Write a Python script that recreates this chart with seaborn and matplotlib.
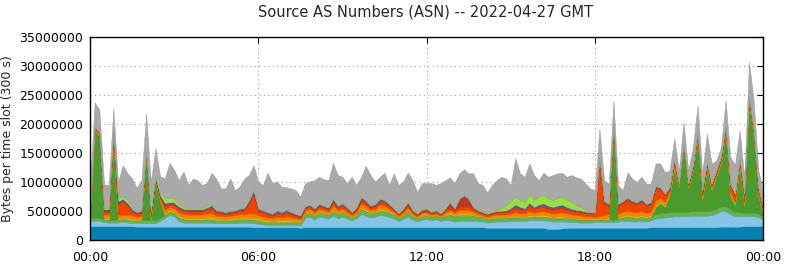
import numpy as np
import matplotlib
matplotlib.use("Agg")
import matplotlib.pyplot as plt
from matplotlib.ticker import FuncFormatter, MultipleLocator
import seaborn as sns

# one sample every 10 minutes, values in units of 100000 bytes per 300 s slot
slot_minutes = 10
unit = 100000

dark_blue = [
    24, 24, 24, 24, 24, 24, 24, 24, 24, 24,
    23, 23, 23, 23, 23, 23, 23, 23, 23, 23,
    23, 23, 23, 23, 23, 23, 23, 23, 23, 23,
    23, 23, 23, 23, 23, 22, 22, 22, 22, 22,
    22, 22, 22, 22, 22, 21, 22, 22, 22, 22,
    22, 22, 22, 22, 22, 22, 22, 22, 22, 22,
    22, 22, 22, 22, 22, 22, 22, 22, 22, 22,
    22, 22, 22, 22, 22, 22, 22, 22, 22, 22,
    22, 22, 22, 22, 22, 21, 21, 21, 21, 21,
    21, 21, 21, 21, 21, 21, 21, 21, 19, 19,
    19, 20, 21, 21, 21, 21, 21, 21, 21, 21,
    21, 21, 21, 21, 21, 21, 21, 21, 21, 21,
    22, 22, 22, 22, 22, 22, 22, 22, 22, 22,
    22, 22, 22, 22, 22, 23, 23, 23, 23, 23,
    24, 24, 24, 24, 25,
]
light_blue = [
    9, 9, 9, 7, 6, 6, 6, 8, 6, 5,
    6, 6, 6, 6, 6, 10, 15, 20, 18, 10,
    7, 7, 7, 7, 7, 7, 7, 6, 6, 6,
    6, 6, 7, 7, 7, 7, 6, 5, 4, 4,
    4, 4, 4, 4, 4, 4, 16, 18, 14, 18,
    17, 15, 20, 16, 18, 15, 12, 15, 23, 20,
    17, 18, 21, 20, 18, 15, 11, 14, 19, 13,
    10, 13, 14, 12, 14, 11, 13, 12, 10, 11,
    11, 11, 11, 10, 10, 9, 10, 11, 11, 11,
    12, 12, 12, 12, 13, 13, 13, 13, 14, 13,
    13, 12, 11, 10, 10, 9, 9, 9, 10, 10,
    10, 10, 10, 11, 12, 12, 11, 11, 12, 11,
    12, 15, 16, 17, 18, 19, 19, 19, 19, 20,
    20, 20, 20, 21, 24, 27, 27, 22, 18, 18,
    17, 17, 17, 16, 10,
]
green = [
    5, 5, 5, 5, 5, 5, 5, 5, 5, 5,
    4, 5, 5, 5, 5, 5, 5, 6, 6, 6,
    6, 5, 5, 5, 5, 6, 6, 5, 5, 5,
    5, 6, 6, 6, 6, 6, 6, 5, 5, 5,
    5, 5, 5, 5, 5, 5, 6, 7, 6, 7,
    7, 6, 8, 7, 7, 6, 5, 6, 8, 8,
    7, 7, 8, 8, 7, 6, 5, 6, 8, 6,
    5, 6, 6, 6, 6, 5, 7, 10, 9, 10,
    10, 10, 9, 8, 7, 6, 6, 6, 6, 6,
    6, 6, 6, 6, 6, 6, 6, 6, 6, 6,
    6, 6, 6, 6, 5, 5, 5, 5, 4, 4,
    4, 5, 4, 5, 6, 8, 7, 6, 7, 6,
    6, 8, 8, 8, 8, 8, 8, 8, 8, 8,
    8, 8, 8, 8, 8, 8, 8, 8, 7, 7,
    6, 6, 6, 6, 5,
]
dark_green = [
    0, 150, 141, 0, 0, 137, 0, 0, 0, 0,
    0, 0, 113, 0, 68, 30, 0, 0, 0, 0,
    0, 0, 0, 0, 0, 0, 0, 0, 0, 0,
    0, 0, 0, 0, 0, 0, 0, 0, 0, 0,
    0, 0, 0, 0, 0, 0, 0, 0, 0, 0,
    0, 0, 0, 0, 0, 0, 0, 0, 0, 0,
    0, 0, 0, 0, 0, 0, 0, 0, 0, 0,
    0, 0, 0, 0, 0, 0, 0, 0, 0, 0,
    0, 0, 0, 0, 0, 0, 0, 0, 0, 0,
    0, 0, 0, 0, 0, 0, 0, 0, 0, 0,
    0, 0, 0, 0, 0, 0, 0, 0, 0, 0,
    0, 0, 161, 0, 0, 0, 0, 0, 0, 0,
    0, 12, 18, 10, 30, 74, 43, 111, 41, 70,
    128, 19, 73, 35, 56, 75, 130, 22, 12, 81,
    12, 190, 133, 29, 3,
]
amber = [
    1, 1, 1, 3, 3, 2, 3, 2, 3, 3,
    2, 3, 1, 2, 1, 1, 3, 3, 3, 3,
    3, 3, 3, 3, 3, 3, 4, 3, 3, 2,
    3, 3, 3, 3, 3, 3, 3, 3, 3, 2,
    3, 3, 3, 3, 2, 2, 2, 2, 2, 2,
    2, 2, 3, 2, 2, 2, 1, 2, 3, 3,
    2, 2, 3, 3, 2, 2, 1, 2, 2, 2,
    1, 2, 2, 1, 1, 1, 2, 3, 2, 3,
    3, 3, 2, 2, 1, 1, 2, 2, 2, 2,
    2, 3, 2, 2, 3, 2, 3, 3, 3, 2,
    3, 3, 2, 2, 2, 2, 2, 2, 2, 2,
    2, 3, 1, 3, 3, 3, 3, 3, 3, 3,
    3, 3, 3, 3, 2, 2, 1, 1, 1, 1,
    1, 2, 1, 1, 1, 1, 1, 2, 2, 1,
    2, 1, 1, 2, 2,
]
orange = [
    3, 2, 2, 5, 6, 4, 6, 4, 6, 6,
    5, 5, 2, 5, 2, 3, 6, 5, 5, 6,
    6, 6, 6, 6, 6, 7, 7, 5, 5, 5,
    5, 5, 6, 6, 7, 8, 6, 6, 5, 5,
    6, 5, 7, 5, 5, 4, 5, 5, 4, 5,
    4, 4, 7, 5, 5, 4, 3, 4, 7, 6,
    4, 5, 7, 6, 5, 4, 3, 4, 5, 3,
    3, 4, 4, 3, 3, 3, 4, 5, 4, 6,
    6, 6, 5, 4, 3, 3, 4, 4, 4, 4,
    5, 6, 5, 5, 7, 5, 6, 7, 6, 6,
    6, 7, 6, 5, 5, 5, 4, 4, 3, 4,
    6, 6, 2, 6, 7, 7, 7, 7, 7, 6,
    6, 8, 6, 6, 4, 5, 2, 2, 2, 3,
    3, 5, 4, 4, 3, 3, 3, 6, 5, 4,
    5, 3, 3, 4, 4,
]
red = [
    2, 2, 2, 5, 5, 8, 18, 23, 15, 7,
    5, 5, 2, 5, 1, 3, 6, 4, 5, 5,
    5, 5, 5, 5, 5, 6, 8, 5, 4, 4,
    4, 4, 5, 6, 17, 33, 7, 6, 5, 4,
    6, 5, 6, 5, 4, 3, 4, 4, 3, 4,
    4, 4, 6, 4, 5, 4, 3, 4, 6, 5,
    4, 4, 5, 5, 4, 3, 2, 3, 5, 3,
    2, 3, 3, 2, 3, 2, 3, 4, 3, 5,
    6, 5, 4, 3, 3, 3, 3, 4, 4, 4,
    5, 7, 6, 5, 8, 6, 7, 7, 6, 6,
    7, 7, 6, 6, 5, 5, 5, 5, 5, 99,
    20, 14, 2, 13, 15, 19, 15, 14, 17, 12,
    13, 22, 14, 11, 4, 7, 1, 2, 2, 3,
    2, 7, 4, 4, 4, 4, 4, 11, 10, 4,
    11, 4, 3, 7, 5,
]
dark_red = [
    1, 1, 1, 2, 2, 1, 2, 2, 2, 1,
    1, 1, 1, 1, 0, 1, 3, 2, 2, 2,
    2, 2, 2, 2, 2, 2, 2, 2, 2, 1,
    2, 2, 2, 2, 2, 2, 2, 2, 2, 1,
    2, 2, 2, 2, 1, 1, 1, 1, 1, 2,
    1, 1, 2, 1, 2, 1, 1, 1, 2, 2,
    1, 2, 2, 2, 2, 1, 1, 1, 2, 1,
    1, 1, 1, 1, 1, 1, 2, 7, 3, 12,
    17, 12, 2, 1, 1, 1, 1, 1, 1, 1,
    2, 3, 2, 2, 3, 2, 2, 3, 2, 2,
    2, 3, 2, 2, 2, 2, 1, 1, 1, 1,
    1, 1, 0, 1, 1, 1, 1, 1, 1, 1,
    1, 1, 1, 1, 1, 1, 0, 0, 1, 1,
    1, 1, 1, 1, 1, 1, 1, 1, 1, 1,
    1, 1, 1, 1, 1,
]
navy = [
    1, 1, 1, 2, 2, 2, 3, 3, 3, 2,
    2, 2, 1, 2, 1, 1, 3, 2, 3, 3,
    2, 2, 2, 2, 2, 2, 3, 2, 2, 2,
    2, 2, 2, 2, 3, 4, 2, 2, 2, 2,
    3, 2, 3, 2, 2, 2, 2, 2, 2, 2,
    2, 2, 3, 2, 2, 2, 1, 2, 3, 2,
    2, 2, 3, 3, 2, 1, 1, 2, 2, 1,
    1, 1, 2, 1, 1, 1, 1, 2, 1, 2,
    2, 2, 1, 1, 1, 1, 1, 1, 1, 2,
    2, 3, 3, 2, 3, 2, 3, 3, 3, 3,
    3, 3, 3, 2, 2, 2, 2, 1, 1, 2,
    3, 2, 1, 2, 2, 2, 2, 2, 2, 2,
    2, 2, 2, 1, 1, 1, 1, 1, 1, 1,
    1, 1, 1, 1, 1, 1, 1, 1, 1, 1,
    1, 1, 1, 1, 1,
]
lime = [
    0, 0, 0, 2, 2, 1, 5, 5, 5, 2,
    1, 2, 1, 1, 3, 3, 8, 7, 7, 5,
    3, 2, 3, 2, 3, 3, 2, 1, 1, 1,
    1, 1, 1, 2, 1, 1, 1, 1, 1, 1,
    1, 1, 1, 1, 1, 1, 1, 1, 1, 1,
    1, 1, 1, 1, 1, 1, 1, 1, 1, 1,
    1, 1, 1, 1, 1, 1, 0, 1, 1, 1,
    1, 1, 1, 1, 1, 0, 1, 1, 1, 1,
    1, 1, 1, 1, 1, 1, 1, 2, 5, 9,
    11, 14, 12, 11, 16, 12, 14, 15, 13, 12,
    13, 14, 12, 12, 8, 6, 3, 1, 1, 0,
    1, 1, 1, 1, 1, 1, 1, 1, 1, 1,
    1, 1, 1, 1, 1, 1, 0, 0, 0, 0,
    0, 1, 0, 0, 0, 0, 0, 1, 1, 0,
    1, 0, 0, 1, 1,
]
gray = [
    52, 42, 39, 41, 40, 37, 28, 53, 46, 51,
    41, 51, 63, 50, 48, 30, 34, 61, 49, 40,
    61, 40, 50, 48, 39, 39, 54, 54, 38, 40,
    55, 34, 37, 49, 43, 43, 45, 43, 67, 52,
    49, 43, 38, 40, 40, 32, 39, 39, 48, 46,
    45, 46, 61, 52, 45, 41, 60, 38, 34, 59,
    52, 38, 37, 46, 32, 60, 49, 46, 50, 51,
    37, 45, 43, 49, 43, 52, 48, 42, 43, 43,
    44, 43, 58, 46, 46, 36, 46, 51, 54, 46,
    29, 66, 46, 43, 52, 43, 28, 38, 37, 43,
    43, 41, 40, 46, 48, 49, 46, 40, 38, 49,
    35, 34, 38, 31, 18, 43, 38, 34, 38, 34,
    31, 38, 41, 37, 29, 35, 23, 37, 23, 31,
    46, 29, 49, 35, 17, 17, 43, 46, 50, 49,
    29, 60, 52, 29, 29,
]

series = [dark_blue, light_blue, green, dark_green, amber, orange,
          red, dark_red, navy, lime, gray]
colors = ["#0580b2", "#86c4e6", "#66b34c", "#4a9a2e", "#f5ae10", "#ff8000",
          "#f04400", "#c43424", "#4060a8", "#98e040", "#a9a9a9"]

hour_ticks = [0, 6, 12, 18, 24]
hour_labels = ["00:00", "06:00", "12:00", "18:00", "00:00"]
title = "Source AS Numbers (ASN) -- 2022-04-27 GMT"

sns.set_theme(style="white")
plt.rcParams['font.family'] = ['DejaVu Sans']

fig = plt.figure(figsize=(7.85, 2.64), dpi=100)
ax = fig.add_axes([90 / 785, 24 / 264, 673 / 785, 203 / 264])

hours = np.arange(len(dark_blue)) * slot_minutes / 60
layers = [np.array(s) * unit for s in series]
polys = ax.stackplot(hours, *layers, colors=colors, linewidth=0.3)
# slightly darker outline for each band
for p, c in zip(polys, colors):
    rgb = np.array(matplotlib.colors.to_rgb(c)) * 0.88
    p.set_edgecolor(rgb)

ax.set_xlim(0, 24)
ax.set_ylim(0, 35000000)
ax.set_xticks(hour_ticks)
ax.set_xticklabels(hour_labels)
ax.yaxis.set_major_locator(MultipleLocator(5000000))
ax.yaxis.set_major_formatter(FuncFormatter(lambda v, p: "%d" % v))
ax.tick_params(direction='in', top=True, right=True, length=4, width=0.8,
               labelsize=9, colors='black')
ax.tick_params(axis='x', pad=8)
ax.tick_params(axis='y', pad=5)
ax.set_axisbelow(True)
ax.grid(True, linestyle=(0, (1, 3)), color='#a0a0a0', linewidth=0.8)
for s in ax.spines.values():
    s.set_color('black')
    s.set_linewidth(1)

ax.set_ylabel("Bytes per time slot (300 s)", fontsize=9, labelpad=4)
fig.text(426 / 785, 1 - 12 / 264, title, ha='center', va='center', fontsize=10.5)

fig.savefig("out.png", dpi=100)
